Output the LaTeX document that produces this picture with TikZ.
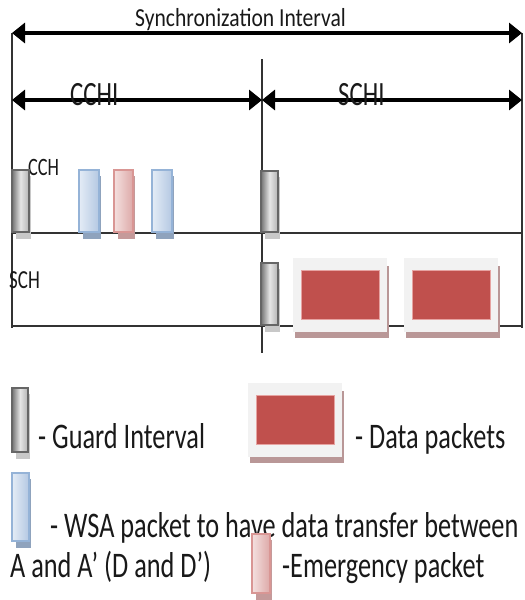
\documentclass[tikz,border=0pt]{standalone}
\usepackage{fontspec}
\newfontfamily\fA[FakeStretch=0.83]{Carlito}
\newfontfamily\fB[FakeStretch=0.73]{Carlito}
\usetikzlibrary{arrows.meta}
\definecolor{frame}{HTML}{333333}
\definecolor{wsdraw}{HTML}{95B3D7}
\definecolor{wsl}{HTML}{E4ECF6}
\definecolor{wsr}{HTML}{B4C8E2}
\definecolor{wssh}{HTML}{8FA3BD}
\definecolor{emdraw}{HTML}{D99694}
\definecolor{eml}{HTML}{F4E0DF}
\definecolor{emr}{HTML}{DDA9A8}
\definecolor{emsh}{HTML}{C59A9A}
\definecolor{gdsh}{HTML}{C8C8C8}
\definecolor{dout}{HTML}{F2F2F2}
\definecolor{dsh}{HTML}{B99797}
\definecolor{dred}{HTML}{C0504D}
\definecolor{dredb}{HTML}{E6A3A1}
\tikzset{
  frameline/.style={draw=frame, line width=1.6pt},
  spanarrow/.style={line width=3.5pt, {Triangle[length=13pt,width=20pt]}-{Triangle[length=13pt,width=20pt]}},
  txt/.style={anchor=base west, inner sep=0pt, text=black!90},
  gdbox/.style={draw=black!60, line width=2.2pt, left color=black!55, right color=black!30, middle color=black!10},
  gdshadow/.style={fill=gdsh},
  wsbox/.style={draw=wsdraw, line width=2.2pt, left color=wsl, right color=wsr},
  wsshadow/.style={fill=wssh},
  embox/.style={draw=emdraw, line width=2.2pt, left color=eml, right color=emr},
  emshadow/.style={fill=emsh},
}
\newcommand\pkt[5]{%
  \fill[#5shadow] (#1+4,#2+6) rectangle (#3+2,#4+7);
  \draw[#5box] (#1,#2) rectangle (#3,#4);
}
\newcommand\dpkt[4]{%
  \fill[dsh] (#1+2,#2+8) rectangle (#3+2,#4+6);
  \fill[dout] (#1,#2) rectangle (#3,#4);
  \draw[fill=dred, draw=dredb, line width=0.8pt] (#1+8,#2+12) rectangle (#3-8,#4-13);
}
\begin{document}
\begin{tikzpicture}[x=1pt,y=-1pt]
\useasboundingbox (0,0) rectangle (525,600);
\fill[white] (0,0) rectangle (525,600);

% frame coordinates
\coordinate (TL) at (12,33);
\coordinate (TR) at (522,33);
\coordinate (ML) at (12,100);
\coordinate (MC) at (262,100);
\coordinate (MR) at (522,100);
\coordinate (BL) at (12,328);
\coordinate (BR) at (522,328);
\coordinate (CT) at (262,59);
\coordinate (CB) at (262,353);
\coordinate (CCHL) at (12,233);
\coordinate (CCHR) at (522,233);
\coordinate (SCHL) at (12,326);
\coordinate (SCHR) at (522,326);

% frame lines
\draw[frameline] (TL) -- (BL);
\draw[frameline] (TR) -- (BR);
\draw[frameline] (CT) -- (CB);
\draw[frameline] (CCHL) -- (CCHR);
\draw[frameline] (SCHL) -- (SCHR);

% span arrows
\draw[spanarrow] (TL) -- (TR);
\draw[spanarrow] (ML) -- (MC);
\draw[spanarrow] (MC) -- (MR);

% labels
\node[txt, font=\fA\fontsize{26}{26}\selectfont] (sync) at (135,26) {Synchronization Interval};
\node[txt, font=\fB\fontsize{34}{34}\selectfont] (cchi) at (70,105) {CCHI};
\node[txt, font=\fB\fontsize{34}{34}\selectfont] (schi) at (338,105) {SCHI};
\node[txt, font=\fB\fontsize{25}{25}\selectfont] (cch) at (28,175) {CCH};
\node[txt, font=\fB\fontsize{26}{26}\selectfont] (sch) at (9,288) {SCH};

% CCH packets
\pkt{12}{170}{29}{232}{gd}
\pkt{79}{170}{99}{232}{ws}
\pkt{114}{170}{133}{232}{em}
\pkt{152}{170}{172}{232}{ws}
\pkt{261}{171}{278}{232}{gd}

% SCH packets
\pkt{261}{263}{278}{325}{gd}
\dpkt{293}{258}{387}{332}
\dpkt{404}{258}{498}{332}

% legend
\pkt{12}{388}{28}{452}{gd}
\node[txt, font=\fB\fontsize{36}{36}\selectfont] (lgd) at (38,448) {- Guard Interval};
\dpkt{248}{383}{342}{457}
\node[txt, font=\fB\fontsize{36}{36}\selectfont] (ldp) at (355,448) {- Data packets};
\pkt{12}{473}{29}{541}{ws}
\node[txt, font=\fB\fontsize{36}{36}\selectfont] (lws) at (50,537) {- WSA packet to have data transfer between};
\node[txt, font=\fB\fontsize{36}{36}\selectfont] (laa) at (10,577) {A and A’ (D and D’)};
\pkt{252}{534}{270}{593}{em}
\node[txt, font=\fB\fontsize{36}{36}\selectfont] (lem) at (282,577) {-Emergency packet};
\end{tikzpicture}
\end{document}
